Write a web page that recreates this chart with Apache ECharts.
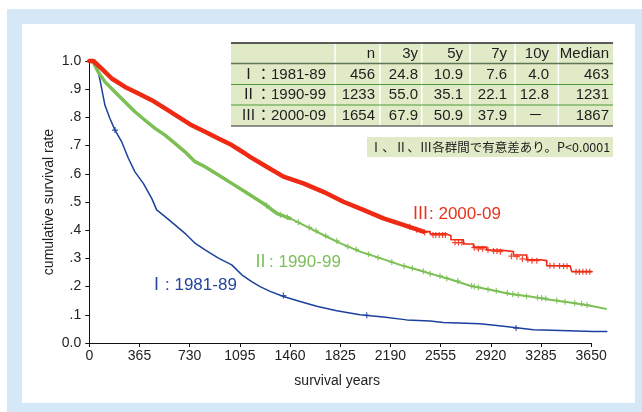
<!DOCTYPE html>
<html><head><meta charset="utf-8">
<script src="https://cdn.jsdelivr.net/npm/echarts@6/dist/echarts.min.js"></script>
<style>html,body{margin:0;padding:0;background:#fff}#c{width:642px;height:412px}</style>
</head><body><div id="c"></div>
<script>
// ---- data ----
var xTicks = [0,365,730,1095,1460,1825,2190,2555,2920,3285,3650];
var yTickLabels = ['0.0','.1','.2','.3','.4','.5','.6','.7','.8','.9','1.0'];

var groupNames = ['Ⅰ: 1981-89','Ⅱ: 1990-99','Ⅲ: 2000-09'];

var survI = [[0,1.0],[17,1.0],[54,0.985],[78,0.932],[114,0.843],[150,0.796],[187,0.755],[236,0.713],[284,0.655],[332,0.607],[393,0.566],[454,0.513],[490,0.472],[551,0.448],[623,0.419],[696,0.389],[769,0.354],[842,0.330],[939,0.301],[1036,0.277],[1109,0.242],[1181,0.218],[1242,0.200],[1315,0.183],[1412,0.165],[1533,0.147],[1654,0.130],[1800,0.114],[1969,0.100],[2139,0.092],[2309,0.082],[2479,0.078],[2575,0.073],[2842,0.068],[2964,0.062],[3061,0.057],[3230,0.047],[3424,0.044],[3667,0.041],[3764,0.041]];
var survII = [[0,1.0],[29,0.996],[65,0.961],[114,0.926],[187,0.890],[260,0.855],[332,0.820],[405,0.790],[478,0.761],[551,0.737],[623,0.708],[696,0.678],[769,0.643],[842,0.625],[939,0.596],[1036,0.566],[1133,0.536],[1266,0.495],[1363,0.460],[1460,0.442],[1582,0.413],[1702,0.383],[1824,0.354],[1969,0.324],[2115,0.301],[2260,0.277],[2406,0.257],[2479,0.246],[2624,0.226],[2769,0.203],[2915,0.189],[3061,0.174],[3206,0.165],[3352,0.153],[3497,0.144],[3643,0.132],[3759,0.121]];
var survIII = [[0,1.0],[29,1.0],[90,0.973],[163,0.938],[260,0.908],[357,0.885],[454,0.861],[551,0.832],[648,0.802],[745,0.772],[842,0.749],[939,0.725],[1036,0.702],[1133,0.672],[1169,0.660],[1290,0.625],[1412,0.590],[1557,0.566],[1702,0.536],[1848,0.501],[1993,0.472],[2139,0.442],[2284,0.419],[2430,0.395],[2479,0.387],[2600,0.380],[2630,0.366],[2721,0.351],[2794,0.340],[2891,0.330],[2988,0.324],[3085,0.312],[3182,0.295],[3279,0.292],[3327,0.274],[3497,0.271],[3509,0.253],[3655,0.253]];

var censorI = [[40,0.995],[54,0.985],[187,0.755],[1412,0.168],[2018,0.098],[3104,0.053]];
var censorII = [[1290,0.488],[1390,0.455],[1440,0.446],[1520,0.428],[1600,0.410],[1650,0.398],[1720,0.380],[1800,0.362],[1880,0.342],[1940,0.332],[2030,0.315],[2100,0.303],[2200,0.287],[2290,0.273],[2350,0.265],[2430,0.254],[2480,0.246],[2551,0.238],[2600,0.229],[2680,0.220],[2780,0.203],[2800,0.200],[2830,0.198],[2900,0.190],[2960,0.185],[3040,0.177],[3080,0.173],[3120,0.170],[3180,0.165],[3260,0.161],[3290,0.160],[3320,0.158],[3400,0.151],[3460,0.146],[3530,0.142],[3580,0.139],[3620,0.135]];
var censorIII = [[2330,0.412],[2380,0.402],[2440,0.392],[2500,0.383],[2520,0.383],[2545,0.383],[2570,0.383],[2590,0.383],[2660,0.356],[2685,0.356],[2710,0.356],[2800,0.338],[2830,0.334],[2860,0.334],[2900,0.330],[2940,0.326],[2965,0.326],[2990,0.324],[3070,0.308],[3110,0.306],[3150,0.298],[3190,0.295],[3220,0.292],[3255,0.292],[3350,0.274],[3380,0.274],[3420,0.273],[3450,0.272],[3475,0.272],[3540,0.253],[3565,0.253],[3590,0.253],[3615,0.253],[3640,0.253]];

var tableHeader = ['', 'n', '3y', '5y', '7y', '10y', 'Median'];
var tableRowI   = ['Ⅰ：1981-89', '456', '24.8', '10.9', '7.6', '4.0', '463'];
var tableRowII  = ['Ⅱ：1990-99', '1233', '55.0', '35.1', '22.1', '12.8', '1231'];
var tableRowIII = ['Ⅲ：2000-09', '1654', '67.9', '50.9', '37.9', '－', '1867'];
var noteText = 'Ⅰ、Ⅱ、Ⅲ各群間で有意差あり。P<0.0001';

// ---- styling / layout ----
var RED = '#ee2a14', GREEN = '#7bbf55', BLUE = '#1b419c';
var FONT = '"Liberation Sans", Arial, "Noto Sans CJK JP", sans-serif';
var PLUS = 'path://M4,0H6V4H10V6H6V10H4V6H0V4H4Z';
var X_MAX = 3780; // room for curves that run past the last tick

var chart = echarts.init(document.getElementById('c'), null, {renderer: 'canvas'});

var gfx = [
  {type:'rect', shape:{x:7,y:9,width:635,height:403}, style:{fill:'#d5e8f7'}, silent:true, z:-20},
  {type:'rect', shape:{x:22,y:24,width:613,height:379}, style:{fill:'#ffffff'}, silent:true, z:-19}
];
// table
var tX0 = 231, tX1 = 613;
var rowEdges = [43, 63.5, 84.5, 105, 126];
var colSeps = [335, 380, 421.7, 470, 515, 558.3];
var colRight = [375, 418, 463, 507, 549, 609];
gfx.push({type:'rect', shape:{x:tX0,y:rowEdges[0],width:tX1-tX0,height:rowEdges[4]-rowEdges[0]}, style:{fill:'#e0eac6'}, silent:true});
colSeps.forEach(function(x){
  gfx.push({type:'line', shape:{x1:x,y1:rowEdges[0],x2:x,y2:rowEdges[4]}, style:{stroke:'#ffffff',lineWidth:1.5}, silent:true});
});
gfx.push({type:'line', shape:{x1:tX0,y1:rowEdges[0],x2:tX1,y2:rowEdges[0]}, style:{stroke:'#2a2a2a',lineWidth:1.5}, silent:true});
gfx.push({type:'line', shape:{x1:tX0,y1:rowEdges[1],x2:tX1,y2:rowEdges[1]}, style:{stroke:'#5f7656',lineWidth:1.5}, silent:true});
gfx.push({type:'line', shape:{x1:tX0,y1:rowEdges[2],x2:tX1,y2:rowEdges[2]}, style:{stroke:'#4f9a3a',lineWidth:1}, silent:true});
gfx.push({type:'line', shape:{x1:tX0,y1:rowEdges[3],x2:tX1,y2:rowEdges[3]}, style:{stroke:'#4f9a3a',lineWidth:1}, silent:true});
gfx.push({type:'line', shape:{x1:tX0,y1:rowEdges[4],x2:tX1,y2:rowEdges[4]}, style:{stroke:'#2a2a2a',lineWidth:1}, silent:true});
[tableHeader, tableRowI, tableRowII, tableRowIII].forEach(function(row, r){
  var cy = (rowEdges[r] + rowEdges[r+1]) / 2 + 0.5;
  row.forEach(function(cell, c){
    if (!cell) return;
    if (c === 0) {
      gfx.push({type:'text', x:241, y:cy, style:{text:cell, fill:'#1e1e1e', font:'15px ' + FONT, align:'left', verticalAlign:'middle'}, silent:true});
    } else {
      var xr = colRight[c-1] - (cell === '－' ? 6 : 0);
      gfx.push({type:'text', x:xr, y:cy, style:{text:cell, fill:'#1e1e1e', font:'15px ' + FONT, align:'right', verticalAlign:'middle'}, silent:true});
    }
  });
});
// note
gfx.push({type:'rect', shape:{x:367,y:137,width:246,height:20}, style:{fill:'#e0eac6'}, silent:true});
gfx.push({type:'text', x:490, y:147.5, style:{text:noteText, fill:'#1e1e1e', font:'12.5px "Noto Sans CJK JP", sans-serif', align:'center', verticalAlign:'middle'}, silent:true});
// curve labels
gfx.push({type:'text', x:412, y:214, style:{text:groupNames[2], fill:'#e8321c', font:'17px ' + FONT, align:'left', verticalAlign:'middle'}, silent:true});
gfx.push({type:'text', x:252, y:262, style:{text:groupNames[1], fill:'#7cbf5a', font:'17px ' + FONT, align:'left', verticalAlign:'middle'}, silent:true});
gfx.push({type:'text', x:148, y:285, style:{text:groupNames[0], fill:'#23459d', font:'17px ' + FONT, align:'left', verticalAlign:'middle'}, silent:true});

function upTo(arr, d){ return arr.filter(function(p){ return p[0] <= d; }); }
function from(arr, d){ return arr.filter(function(p){ return p[0] >= d; }); }

function lineSeries(data, color, width, step, z){
  return {type:'line', data:data, showSymbol:false, symbol:'none', step:step || false, clip:false,
    lineStyle:{color:color, width:width, cap:'round', join:'round'}, itemStyle:{color:color}, animation:false, silent:true, z:z||2};
}
function censorSeries(data, color, size){
  return {type:'scatter', data:data, symbol:PLUS, symbolSize:size, clip:false,
    itemStyle:{color:color, opacity:0.85}, animation:false, silent:true, z:3};
}

// x axis baseline only from 0 to the last tick (as in the original)
var baseLine = {type:'line', data:[], silent:true, animation:false, z:1,
  markLine:{silent:true, symbol:['none','none'], animation:false, label:{show:false},
    lineStyle:{color:'#111', width:1, type:'solid'},
    data:[[{coord:[xTicks[0],0]},{coord:[xTicks[xTicks.length-1],0]}]]}};

chart.setOption({
  backgroundColor:'#ffffff',
  animation:false,
  graphic: gfx,
  grid:{left:89.3, right:33, top:61, bottom:69, containLabel:false},
  xAxis:{type:'value', min:0, max:X_MAX,
    name:'survival years', nameLocation:'middle', nameGap:31,
    nameTextStyle:{color:'#222', fontSize:14, fontFamily:FONT, padding:[0,24,0,0]},
    axisLine:{show:false, onZero:false},
    axisTick:{show:true, inside:false, length:4, customValues:xTicks, lineStyle:{color:'#111'}},
    axisLabel:{color:'#222', fontSize:14, fontFamily:FONT, margin:6,
      customValues: xTicks, formatter:function(v){ return String(v); }},
    splitLine:{show:false}},
  yAxis:{type:'value', min:0, max:1, interval:0.1,
    name:'cumulative survival rate', nameLocation:'middle', nameGap:33, nameRotate:90,
    nameMoveOverlap:false,
    nameTextStyle:{color:'#222', fontSize:14, fontFamily:FONT},
    axisLine:{show:true, onZero:false, lineStyle:{color:'#111', width:1}},
    axisTick:{show:true, inside:false, length:4, lineStyle:{color:'#111'}},
    axisLabel:{color:'#222', fontSize:14, fontFamily:FONT, margin:8,
      formatter:function(v){ return yTickLabels[Math.round(v*10)]; }},
    splitLine:{show:false}},
  series:[
    baseLine,
    lineSeries(survI, BLUE, 1.5, false, 4),
    lineSeries(upTo(survII, 1460), GREEN, 3.5, false, 5),
    lineSeries(from(survII, 1460), GREEN, 2, false, 5),
    lineSeries(upTo(survIII, 2430), RED, 4.5, false, 6),
    lineSeries(from(survIII, 2430), RED, 1.6, 'end', 6),
    censorSeries(censorI, BLUE, 6),
    censorSeries(censorII, GREEN, 6),
    censorSeries(censorIII, RED, 6)
  ]
});
</script></body></html>
